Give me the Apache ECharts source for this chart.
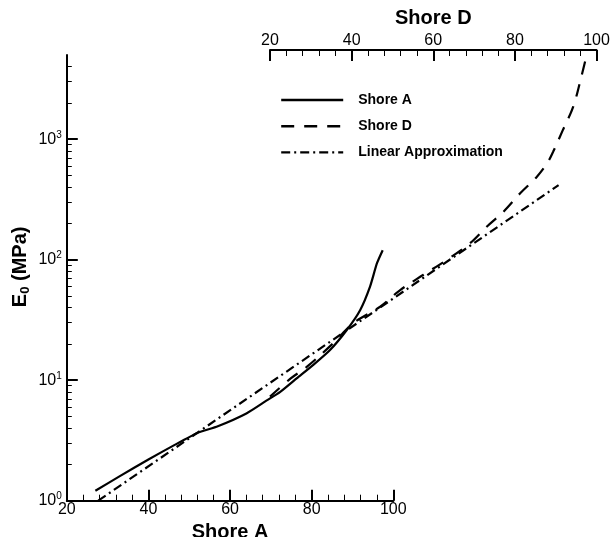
<!DOCTYPE html>
<html>
<head>
<meta charset="utf-8">
<script src="https://cdn.jsdelivr.net/npm/echarts@6/dist/echarts.min.js"></script>
<style>
  html, body { margin: 0; padding: 0; background: #fff; }
  #chart { width: 610px; height: 537px; }
</style>
</head>
<body>
<div id="chart"></div>
<script>
// Initial elastic modulus E0 versus durometer hardness (Shore A and Shore D scales)
const shoreAHardness = [27, 33, 40, 46, 52, 57, 64, 69, 72.3, 76.4, 80.4, 84.5, 88.6, 91.9, 94.3, 96.0, 97.4];
const shoreAModulus  = [1.21, 1.6, 2.2, 2.85, 3.65, 4.15, 5.3, 6.8, 8.0, 10.4, 13.4, 17.8, 26.1, 38.3, 59.8, 93.5, 120];

const shoreDHardness = [20, 25, 29, 35.5, 40.4, 47, 51.9, 57.6, 63.3, 69, 73.1, 77.2, 81.3, 85.4, 88.0, 89.4, 91.8, 94.3, 96.4, 97.4];
const shoreDModulus  = [7.3, 10.3, 12.9, 20.3, 29.7, 40.8, 56, 75, 99.5, 137, 188, 250, 356, 489, 640, 790, 1200, 1865, 3420, 4700];

// straight line in log space, expressed on the Shore A scale
const linearHardnessA = [27.7, 140.5];
const linearModulus   = [1.0, 416];

const hardnessMin = 20, hardnessMax = 100, hardnessStep = 20;
const modulusMin = 1, modulusMax = 5000;
const modulusMajorTicks = [1, 10, 100, 1000];
const modulusMinorTicks = [2, 3, 4, 5, 6, 7, 8, 9, 20, 30, 40, 50, 60, 70, 80, 90,
                           200, 300, 400, 500, 600, 700, 800, 900, 2000, 3000, 4000];

const FONT = "'Liberation Sans', Arial, Helvetica, sans-serif";
const pairs = (xs, ys) => xs.map((x, i) => [x, ys[i]]);

// pixel geometry shared by the two hardness scales
const plotTop = 55, plotBottom = 36.3;
const leftA = 66.8, leftD = 270, scaleWidth = 326.5;
const pxPerUnit = scaleWidth / (hardnessMax - hardnessMin);
const fullWidth = (leftD + scaleWidth) - leftA;
const fullMaxA = hardnessMin + fullWidth / pxPerUnit;

const chart = echarts.init(document.getElementById('chart'), null, { renderer: 'canvas' });

const hardnessAxisBase = (pos) => ({
  type: 'value',
  min: hardnessMin, max: hardnessMax, interval: hardnessStep,
  position: pos,
  axisLine: { show: true, onZero: false, lineStyle: { color: '#000', width: 2 } },
  axisTick: { show: true, inside: true, length: 11, lineStyle: { color: '#000', width: 2 } },
  minorTick: { show: true, splitNumber: 5, length: 6, lineStyle: { color: '#000', width: 1 } },
  splitLine: { show: false },
  minorSplitLine: { show: false },
  axisLabel: { color: '#000', fontSize: 16, fontFamily: FONT, margin: 1 },
  nameLocation: 'middle',
  nameGap: 19,
  nameTextStyle: { color: '#000', fontSize: 20, fontWeight: 'bold', fontFamily: FONT }
});

const logAxisHidden = (gridIndex) => ({
  type: 'log', logBase: 10, gridIndex,
  min: modulusMin, max: modulusMax, show: false
});

const option = {
  animation: false,
  backgroundColor: '#fff',
  grid: [
    { left: leftA, width: fullWidth, top: plotTop, bottom: plotBottom, outerBoundsMode: 'none', containLabel: false },
    { left: leftA, width: scaleWidth, top: plotTop, bottom: plotBottom, outerBoundsMode: 'none', containLabel: false },
    { left: leftD, width: scaleWidth, top: plotTop, bottom: plotBottom, outerBoundsMode: 'none', containLabel: false }
  ],
  xAxis: [
    { type: 'value', gridIndex: 0, min: hardnessMin, max: fullMaxA, show: false },
    Object.assign(hardnessAxisBase('bottom'), { gridIndex: 1, name: 'Shore A' }),
    Object.assign(hardnessAxisBase('top'), { gridIndex: 2, name: 'Shore D', offset: 5 })
  ],
  yAxis: [
    logAxisHidden(0),
    {
      type: 'log', logBase: 10, gridIndex: 1,
      min: modulusMin, max: modulusMax, position: 'left',
      axisLine: { show: true, onZero: false, lineStyle: { color: '#000', width: 2 } },
      axisTick: { show: true, inside: true, length: 11, customValues: modulusMajorTicks,
                  lineStyle: { color: '#000', width: 2 } },
      minorTick: { show: false },
      splitLine: { show: false },
      axisLabel: {
        customValues: modulusMajorTicks,
        margin: 5,
        formatter: (v) => '{b|10}{s|' + Math.round(Math.log10(v)) + '}',
        rich: {
          b: { fontSize: 16, fontFamily: FONT, color: '#000', lineHeight: 18 },
          s: { fontSize: 10, fontFamily: FONT, color: '#000', lineHeight: 10, verticalAlign: 'top' }
        }
      },
      name: '{e|E}{s|0}{e| (MPa)}',
      nameLocation: 'middle',
      nameRotate: 90,
      nameGap: 35,
      nameMoveOverlap: false,
      nameTextStyle: {
        padding: [0, 0, 0, 22],
        rich: {
          e: { fontSize: 20, fontWeight: 'bold', fontFamily: FONT, color: '#000', lineHeight: 22 },
          s: { fontSize: 13, fontWeight: 'bold', fontFamily: FONT, color: '#000', lineHeight: 14, verticalAlign: 'bottom' }
        }
      }
    },
    logAxisHidden(2),
    {
      // minor decade ticks on the left axis
      type: 'log', logBase: 10, gridIndex: 1,
      min: modulusMin, max: modulusMax, position: 'left',
      axisLine: { show: false },
      axisTick: { show: true, inside: true, length: 5, customValues: modulusMinorTicks,
                  lineStyle: { color: '#000', width: 1 } },
      axisLabel: { show: false },
      splitLine: { show: false }
    }
  ],
  legend: {
    orient: 'vertical',
    left: 275,
    top: 88,
    itemWidth: 62,
    itemHeight: 14,
    itemGap: 12.2,
    selectedMode: false,
    itemStyle: { opacity: 0 },
    lineStyle: { width: 2.4 },
    data: ['Shore A', 'Shore D', 'Linear Approximation'],
    textStyle: { color: '#000', fontSize: 14, fontWeight: 'bold', fontFamily: FONT, padding: [0, 0, 0, 10] }
  },
  series: [
    {
      name: 'Shore A', type: 'line', xAxisIndex: 1, yAxisIndex: 1,
      data: pairs(shoreAHardness, shoreAModulus),
      symbol: 'none', smooth: 0.2, clip: false,
      lineStyle: { color: '#000', width: 2.2, type: 'solid' },
      itemStyle: { color: '#000' }
    },
    {
      name: 'Shore D', type: 'line', xAxisIndex: 2, yAxisIndex: 2,
      data: pairs(shoreDHardness, shoreDModulus),
      symbol: 'none', smooth: 0.35, clip: false,
      lineStyle: { color: '#000', width: 2.2, type: [13, 10] },
      itemStyle: { color: '#000' }
    },
    {
      name: 'Linear Approximation', type: 'line', xAxisIndex: 0, yAxisIndex: 0,
      data: pairs(linearHardnessA, linearModulus),
      symbol: 'none', clip: false,
      lineStyle: { color: '#000', width: 2.2, type: [9, 4, 2, 4] },
      itemStyle: { color: '#000' }
    }
  ]
};

chart.setOption(option);
</script>
</body>
</html>
